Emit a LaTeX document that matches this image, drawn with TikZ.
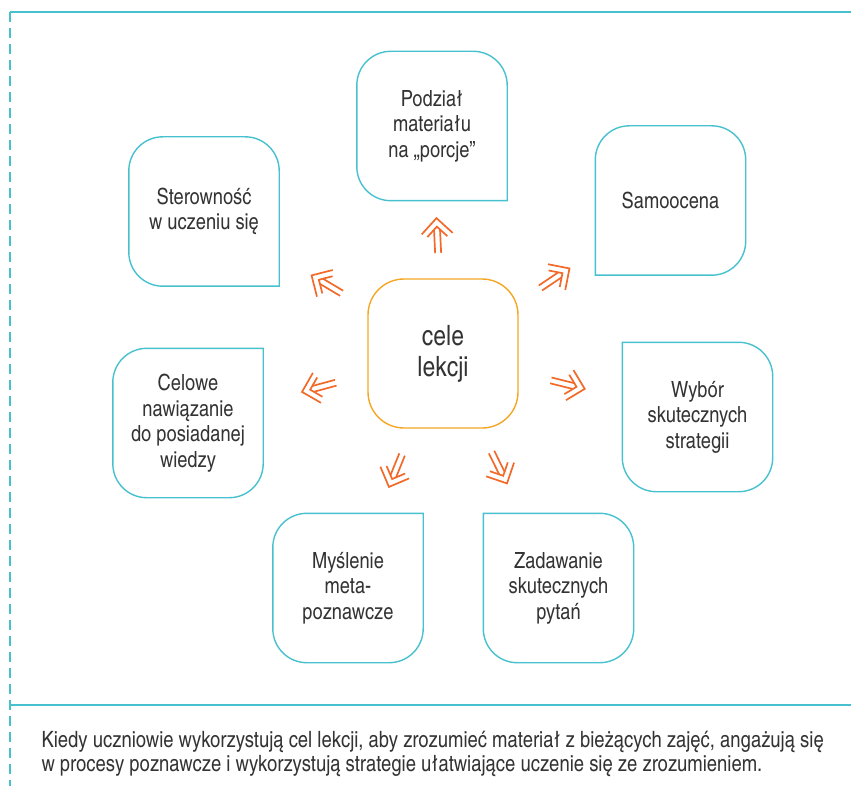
\documentclass[tikz,border=0pt]{standalone}
\usepackage{fontspec}
\setmainfont{texgyreheroscn}[Extension=.otf, UprightFont=*-regular, BoldFont=*-bold]
\usetikzlibrary{calc}
\definecolor{frame}{HTML}{48C1CE}
\definecolor{goal}{HTML}{F5A623}
\definecolor{arrowc}{HTML}{F26A2A}
\definecolor{ink}{HTML}{333333}
\tikzstyle{idea} = [rectangle, minimum width=150pt, minimum height=149pt, align=center, text=ink, font=\fontsize{22.3}{25.5}\selectfont]
\tikzstyle{bubble} = [draw=frame, line width=1.4pt]
\tikzstyle{goalbox} = [idea, draw=goal, line width=1.4pt, rounded corners=36pt, font=\fontsize{28}{31}\selectfont]
\tikzstyle{arrow} = [draw=arrowc, line width=1.7pt, line join=miter]
\tikzset{dblarrow/.pic={
  \draw[arrow] (-35pt,3pt) -- (-11.5pt,3pt);
  \draw[arrow] (-35pt,-3pt) -- (-11.5pt,-3pt);
  \draw[arrow] (-18.5pt,10pt) -- (-8.5pt,0pt) -- (-18.5pt,-10pt);
  \draw[arrow] (-15.5pt,15.5pt) -- (0pt,0pt) -- (-15.5pt,-15.5pt);
}}

\begin{document}
\begin{tikzpicture}[x=1pt, y=-1pt]
\useasboundingbox (0,0) rectangle (851,786);

% frame
\draw[frame, line width=2pt] (10,12) -- (851,12);
\draw[frame, line width=1.6pt, dash pattern=on 10pt off 6pt] (10,12) -- (10,786);
\draw[frame, line width=2pt] (10,705) -- (851,705);

% centre
\node (cele) [goalbox] at (443,353.5) {cele\\lekcji};

% ideas round the centre
\node (pod) [idea] at (432,126) {Podział\\materiału\\na „porcje”};
\node (ster) [idea] at (204,211.5) {Sterowność\\w uczeniu się};
\node (samo) [idea] at (670.5,200.5) {Samoocena};
\node (wyb) [idea] at (697.5,417) {Wybór\\skutecznych\\strategii};
\node (celo) [idea] at (188,423) {Celowe\\nawiązanie\\do posiadanej\\wiedzy};
\node (mysl) [idea] at (348,588) {Myślenie\\meta-\\poznawcze};
\node (zad) [idea] at (558.5,588) {Zadawanie\\skutecznych\\pytań};

% outlines, one sharp corner towards the centre
\foreach \n/\a/\c/\b/\p/\q/\r in {pod/south/south east/east/north east/north west/south west,
  ster/south/south east/east/north east/north west/south west,
  samo/south/south west/west/north west/north east/south east,
  wyb/north/north west/west/south west/south east/north east,
  zad/north/north west/west/south west/south east/north east,
  celo/north/north east/east/south east/south west/north west,
  mysl/north/north east/east/south east/south west/north west}
  \draw[bubble] (\n.\a) -- (\n.\c) -- (\n.\b) [rounded corners=34pt] -- (\n.\p) -- (\n.\q) -- (\n.\r) -- cycle;

% arrows, tip on the line from the centre to each idea
\foreach \t/\e in {pod/0.595, ster/0.55, samo/0.556, celo/0.553,
  wyb/0.557, mysl/0.569, zad/0.554}
  \path let \p1=($(\t)-(cele)$), \n1={atan2(\y1,\x1)} in
    ($(cele)!\e!(\t)$) pic[rotate=\n1] {dblarrow};

% caption
\node (note) [anchor=west, align=left, text=ink, font=\fontsize{22.5}{24.5}\selectfont] at (38,754)
  {Kiedy uczniowie wykorzystują cel lekcji, aby zrozumieć materiał z bieżących zajęć, angażują się\\
   w procesy poznawcze i wykorzystują strategie ułatwiające uczenie się ze zrozumieniem.};

\end{tikzpicture}
\end{document}
